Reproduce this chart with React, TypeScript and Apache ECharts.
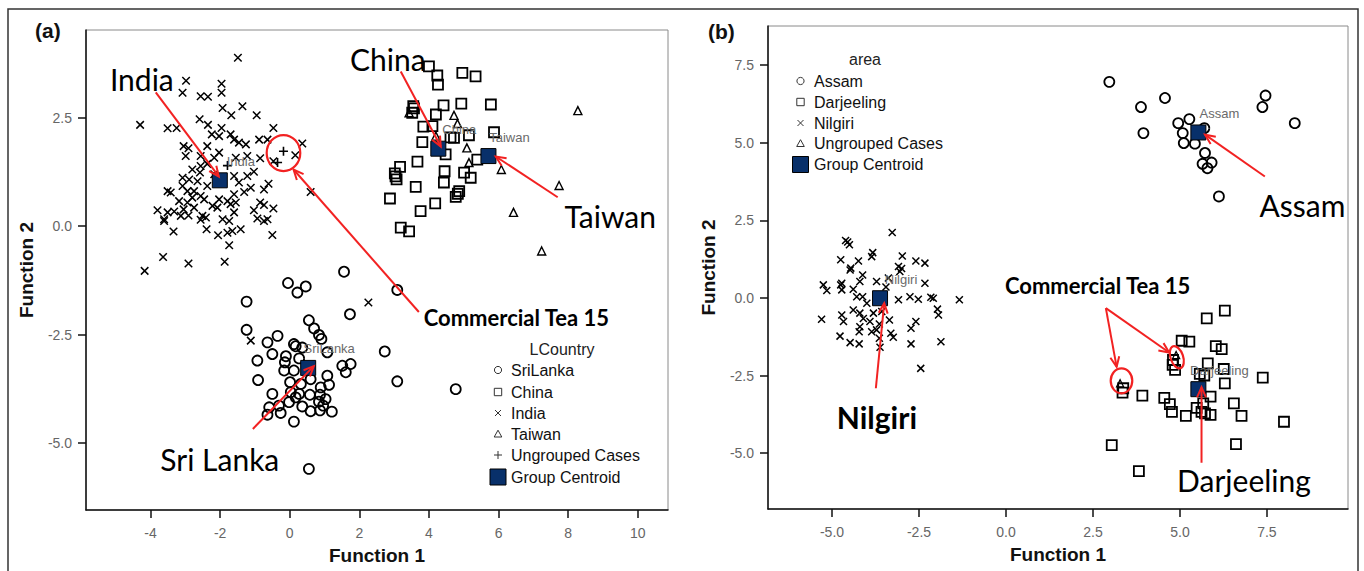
import React, { useEffect, useRef } from 'react';
import * as echarts from 'echarts';

// ---------- Panel (a): LCountry ----------
const INDIA_A = [
  [-1.49,3.89],[-2.98,3.36],[-3.08,3.08],[-2.56,3.00],[-2.35,2.99],[-1.96,3.29],[-1.96,3.08],[-1.93,2.73],[-1.36,2.77],[-1.68,2.56],
  [-0.95,2.56],[-4.30,2.34],[-3.51,2.26],[-3.25,2.27],[-2.59,2.47],[-2.35,2.34],[-1.96,2.27],[-2.24,2.12],[-2.03,2.08],[-1.70,2.12],
  [-1.60,2.00],[-1.46,1.93],[-1.26,1.89],[-0.88,2.00],[-0.64,2.00],[-0.47,2.27],[0.36,1.91],[0.16,1.64],[-3.05,1.85],[-2.91,1.80],
  [-2.56,1.62],[-2.37,1.85],[-2.99,1.62],[-2.03,1.70],[-1.55,1.58],[-1.22,1.62],[-0.85,1.57],[-0.47,1.50],[-2.56,1.39],[-2.37,1.44],
  [-2.58,1.24],[-1.03,1.26],[-1.22,1.16],[-3.08,1.12],[-2.89,1.08],[-2.65,1.04],[-2.37,0.93],[-3.08,0.93],[-2.94,0.81],[-2.75,0.81],
  [-3.51,0.81],[-3.42,0.78],[-2.56,0.70],[-2.80,0.66],[-3.18,0.58],[-2.94,0.55],[-2.46,0.62],[-2.03,0.62],[-1.79,0.58],[-1.60,0.74],
  [-1.31,0.79],[-1.12,0.89],[-0.74,0.85],[-0.61,0.98],[0.60,0.79],[-1.55,0.55],[-1.70,0.51],[-0.85,0.55],[-0.74,0.49],[-0.47,0.41],
  [-1.03,0.37],[-3.80,0.37],[-3.32,0.34],[-3.05,0.39],[-3.51,0.32],[-2.91,0.25],[-2.51,0.24],[-2.41,0.20],[-2.56,0.15],[-3.61,0.16],
  [-3.61,0.12],[-1.93,0.16],[-1.74,0.12],[-0.93,0.18],[-0.74,0.12],[-0.64,0.16],[-3.34,-0.12],[-2.39,-0.07],[-2.06,-0.21],[-1.79,-0.15],
  [-1.65,-0.11],[-1.41,-0.07],[-1.74,-0.44],[-0.50,-0.20],[-3.64,-0.71],[-2.91,-0.86],[-1.87,-0.82],[-4.17,-1.03],[-2.17,1.58],[-2.80,1.31],
  [-2.17,1.20],[-1.60,1.16],[-1.46,1.01],[-2.22,0.47],[-2.08,0.43],[-2.75,0.43],[-3.13,0.24],[-1.60,0.32],[-1.12,-2.64],[2.26,-1.76],
];
const SRILANKA_A = [
  [1.56,-1.05],[-0.05,-1.31],[0.46,-1.39],[0.22,-1.53],[-1.24,-1.74],[1.73,-2.03],[0.55,-2.17],[0.70,-2.36],[0.84,-2.51],[0.91,-2.60],
  [-1.24,-2.39],[-0.35,-2.53],[-0.64,-2.68],[0.12,-2.72],[0.17,-2.77],[0.36,-2.80],[1.08,-2.91],[-0.50,-2.95],[-0.11,-3.00],[0.27,-3.05],
  [-0.93,-3.10],[-0.14,-3.14],[-0.16,-3.33],[0.12,-3.33],[1.51,-3.22],[1.75,-3.18],[1.61,-3.37],[1.08,-3.45],[-0.91,-3.55],[0.01,-3.60],
  [0.32,-3.64],[0.60,-3.53],[1.13,-3.66],[0.89,-3.72],[0.03,-3.83],[0.27,-3.87],[0.58,-3.89],[0.87,-3.89],[-0.50,-3.87],[0.17,-3.95],
  [1.03,-3.99],[-0.02,-4.06],[0.84,-4.05],[0.96,-4.14],[-0.59,-4.18],[-0.31,-4.14],[-0.64,-4.35],[-0.26,-4.31],[0.36,-4.16],[0.60,-4.27],
  [0.87,-4.25],[1.21,-4.28],[0.12,-4.51],[0.55,-5.60],[3.09,-1.47],[2.73,-2.89],[3.09,-3.58],[4.77,-3.76],
];
const CHINA_A = [
  [4.00,3.69],[4.24,3.48],[4.26,3.27],[4.96,3.54],[5.34,3.46],[3.55,2.77],[3.52,2.62],[4.42,2.79],[4.93,2.83],[5.78,2.81],
  [4.20,2.58],[3.84,2.30],[4.10,2.31],[3.81,1.94],[4.72,2.04],[5.15,2.10],[5.87,2.17],[4.48,1.66],[5.39,1.54],[3.17,1.37],
  [3.02,1.22],[3.07,1.08],[3.67,1.49],[4.45,1.27],[5.01,1.24],[5.20,1.12],[3.62,0.91],[4.43,1.01],[4.87,0.81],[4.77,0.68],
  [2.88,0.64],[4.18,0.53],[3.76,0.35],[3.19,-0.03],[3.43,-0.12],[3.57,2.72],[4.83,0.75],[3.04,1.15],[4.62,2.05],
];
const TAIWAN_A = [
  [8.28,2.67],[4.72,2.56],[4.82,2.37],[3.43,2.62],[5.09,1.81],[5.15,1.47],[6.08,1.31],[7.74,0.94],[6.43,0.32],[7.24,-0.57],[4.20,2.08],
];
const UNGROUPED_A = [[-1.79,1.40],[-0.18,1.73],[-0.35,1.47]];
const CENTROID_NAMES_A = ['India', 'China', 'Taiwan', 'SriLanka'];
const CENTROIDS_A = [[-2.01,1.06],[4.27,1.79],[5.71,1.62],[0.53,-3.27]];

// ---------- Panel (b): area ----------
const ASSAM_B = [
  [2.97,6.96],[3.88,6.15],[4.57,6.44],[3.95,5.31],[7.46,6.52],[7.37,6.15],[8.30,5.63],[5.27,5.76],[4.95,5.63],[5.08,5.31],
  [5.11,4.99],[5.43,4.97],[5.70,5.47],[5.72,4.67],[5.65,4.32],[5.91,4.36],[5.79,4.18],[6.12,3.27],
];
const NILGIRI_B = [
  [-3.27,2.11],[-4.61,1.85],[-4.50,1.71],[-4.55,1.80],[-4.75,1.23],[-4.24,1.19],[-4.46,0.96],[-3.83,1.46],[-3.86,1.33],[-2.98,1.35],
  [-3.09,1.01],[-3.05,0.85],[-2.59,1.19],[-2.33,1.12],[-4.12,0.74],[-5.25,0.42],[-4.72,0.47],[-4.20,0.53],[-3.72,0.53],[-3.38,0.64],
  [-2.33,0.47],[-4.48,0.90],[-5.15,0.24],[-4.75,0.42],[-4.72,0.26],[-4.39,0.28],[-4.12,0.04],[-4.29,0.04],[-4.00,-0.17],[-4.39,-0.39],
  [-4.20,-0.49],[-3.81,-0.49],[-3.57,-0.44],[-3.35,-0.71],[-3.09,-0.06],[-2.76,0.04],[-2.52,-0.04],[-2.16,0.02],[-2.09,-0.01],[-1.34,-0.06],
  [-1.97,-0.36],[-1.94,-0.55],[-5.30,-0.69],[-4.72,-0.55],[-4.67,-0.76],[-4.10,-0.66],[-3.91,-0.76],[-3.64,-0.84],[-4.20,-0.93],[-4.22,-1.09],
  [-3.86,-1.09],[-3.72,-1.03],[-4.77,-1.23],[-4.48,-1.44],[-4.22,-1.48],[-3.62,-1.59],[-3.64,-1.30],[-3.31,-1.14],[-3.24,-1.27],[-2.73,-0.98],
  [-2.59,-0.76],[-2.73,-1.48],[-1.87,-1.41],[-2.45,-2.27],[-3.00,0.95],[-3.45,0.35],
];
const DARJEELING_B = [
  [6.29,-0.41],[5.77,-0.66],[5.05,-1.38],[5.27,-1.41],[6.03,-1.55],[6.20,-1.65],[5.80,-2.11],[6.26,-2.29],[6.29,-2.75],[7.38,-2.57],
  [4.79,-2.16],[4.86,-2.32],[5.57,-2.45],[5.70,-2.50],[3.35,-3.05],[3.92,-3.15],[4.55,-3.22],[4.71,-3.42],[4.77,-3.67],[5.17,-3.80],
  [5.48,-3.54],[5.62,-3.67],[5.67,-3.40],[5.88,-3.18],[5.88,-3.77],[5.72,-3.72],[6.55,-3.40],[6.77,-3.80],[7.99,-3.99],[3.04,-4.74],
  [6.61,-4.71],[3.82,-5.58],[3.37,-2.91],[4.80,-2.00],
];
const UNGROUPED_B = [[3.28,-2.75],[4.89,-1.84]];
const CENTROID_NAMES_B = ['Assam', 'Nilgiri', 'Darjeeling'];
const CENTROIDS_B = [[5.53,5.33],[-3.62,-0.01],[5.53,-2.94]];

// ---------- Axis ticks ----------
const X_TICKS_A = [-4, -2, 0, 2, 4, 6, 8, 10];
const Y_TICKS_A = [-5, -2.5, 0, 2.5];
const X_TICKS_B = [-5, -2.5, 0, 2.5, 5, 7.5];
const Y_TICKS_B = [-5, -2.5, 0, 2.5, 5, 7.5];

// ---------- Annotations (data coordinates) ----------
const ARROWS_A = [[-3.85,3.09,-2.04,1.15],[3.19,3.57,4.34,1.84],[7.70,0.67,5.92,1.61],[3.71,-1.98,0.11,1.31],[-1.06,-4.68,0.69,-3.23]];
const NOTES_A = [[-4.25,3.41],[2.82,3.85],[9.21,0.23],[-2.01,-5.37],[3.85,-2.10]];
const NOTE_TEXTS_A = ['India', 'China', 'Taiwan', 'Sri Lanka', 'Commercial Tea 15'];
const RINGS_A = [[-0.18,1.69]];
const ARROWS_B = [[7.44,3.91,5.72,5.26],[2.87,-0.33,3.18,-2.22],[2.87,-0.33,4.69,-1.76],[5.62,-5.31,5.62,-2.88],[-3.74,-2.91,-3.50,-0.17]];
const NOTES_B = [[8.52,3.0],[-0.03,0.39],[6.84,-5.87],[-3.71,-3.84]];
const NOTE_TEXTS_B = ['Assam', 'Commercial Tea 15', 'Darjeeling', 'Nilgiri'];
const RINGS_B = [[3.32,-2.67],[4.91,-1.91]];

const LEGEND_A = ['SriLanka', 'China', 'India', 'Taiwan', 'Ungrouped Cases', 'Group Centroid'];
const LEGEND_B = ['Assam', 'Darjeeling', 'Nilgiri', 'Ungrouped Cases', 'Group Centroid'];

const RED = '#f22222';
const NAVY = '#08306a';
const SANS = 'Liberation Sans, Arial, sans-serif';
const X_SYM = 'path://M0,0L10,10M10,0L0,10';
const PLUS_SYM = 'path://M5,0L5,10M0,5L10,5';

const hollow = (w: number) => ({ color: 'rgba(0,0,0,0)', borderColor: '#000', borderWidth: w, opacity: 1 });
const fmt1 = (v: number) => v.toFixed(1);

function xAxisCfg(gi: number, min: number, max: number, ticks: number[], f: any) {
  return {
    type: 'value', gridIndex: gi, min, max,
    name: 'Function 1', nameLocation: 'middle', nameGap: 36,
    nameTextStyle: { fontFamily: SANS, fontWeight: 'bold', fontSize: 19, color: '#111' },
    axisLine: { show: true, onZero: false, lineStyle: { color: '#111', width: 1.5 } },
    axisTick: { show: true, inside: false, length: 8, customValues: ticks, lineStyle: { color: '#111', width: 1.5 } },
    axisLabel: { customValues: ticks, formatter: f, margin: 16, fontFamily: SANS, fontSize: 14, color: '#666' },
    splitLine: { show: false },
  };
}
function yAxisCfg(gi: number, min: number, max: number, ticks: number[]) {
  return {
    type: 'value', gridIndex: gi, min, max,
    name: 'Function 2', nameLocation: 'middle', nameGap: 50,
    nameTextStyle: { fontFamily: SANS, fontWeight: 'bold', fontSize: 19, color: '#111' },
    axisLine: { show: true, onZero: false, lineStyle: { color: '#111', width: 1.5 } },
    axisTick: { show: true, inside: false, length: 8, customValues: ticks, lineStyle: { color: '#111', width: 1.5 } },
    axisLabel: { customValues: ticks, formatter: fmt1, margin: 14, fontFamily: SANS, fontSize: 14, color: '#666' },
    splitLine: { show: false },
  };
}

function scatter(gi: number, name: string, data: number[][], symbol: string, size: number, w: number) {
  return { type: 'scatter', name, xAxisIndex: gi, yAxisIndex: gi, data, symbol, symbolSize: size, itemStyle: hollow(w), z: 3, silent: true };
}
function centroids(gi: number, names: string[], pts: number[][]) {
  return {
    type: 'scatter', name: 'Group Centroid', xAxisIndex: gi, yAxisIndex: gi, symbol: 'rect', symbolSize: 15, z: 6, silent: true,
    itemStyle: { color: NAVY, borderColor: '#000', borderWidth: 1, opacity: 1 },
    data: pts.map((p, i) => ({ name: names[i], value: p })),
    label: { show: true, formatter: '{b}', position: [29, -11], align: 'center', verticalAlign: 'middle', color: '#6a6a6a', fontSize: 13, fontFamily: SANS },
  };
}
function arrows(gi: number, data: number[][]) {
  return {
    type: 'custom', xAxisIndex: gi, yAxisIndex: gi, data, silent: true, z: 10,
    renderItem: (_p: any, api: any) => {
      const p1 = api.coord([api.value(0), api.value(1)]);
      const p2 = api.coord([api.value(2), api.value(3)]);
      const a = Math.atan2(p2[1] - p1[1], p2[0] - p1[0]);
      const L = 11, s = 0.42;
      const h1 = [p2[0] - L * Math.cos(a - s), p2[1] - L * Math.sin(a - s)];
      const h2 = [p2[0] - L * Math.cos(a + s), p2[1] - L * Math.sin(a + s)];
      const st = { stroke: RED, lineWidth: 2, fill: 'none' };
      return {
        type: 'group', children: [
          { type: 'line', shape: { x1: p1[0], y1: p1[1], x2: p2[0], y2: p2[1] }, style: st },
          { type: 'polyline', shape: { points: [h1, p2, h2] }, style: st },
        ],
      };
    },
  };
}
function notes(gi: number, pts: number[][], texts: string[]) {
  return {
    type: 'custom', xAxisIndex: gi, yAxisIndex: gi, data: pts, silent: true, z: 11,
    renderItem: (params: any, api: any) => {
      const t = texts[params.dataIndex];
      const p = api.coord([api.value(0), api.value(1)]);
      const isCT = t === 'Commercial Tea 15';
      const bold = isCT || t === 'Nilgiri';
      return {
        type: 'text', x: p[0], y: p[1],
        style: {
          text: t, fontSize: isCT ? 22 : 30, fontWeight: bold ? 'bold' : 'normal', fontFamily: 'Lato, Open Sans, sans-serif',
          fill: '#000', align: isCT ? 'left' : 'center', verticalAlign: 'middle',
        },
      };
    },
  };
}
function rings(gi: number, pts: number[][], radii: number[][]) {
  return {
    type: 'custom', xAxisIndex: gi, yAxisIndex: gi, data: pts, silent: true, z: 10,
    renderItem: (params: any, api: any) => {
      const r = radii[params.dataIndex];
      const p = api.coord([api.value(0), api.value(1)]);
      return {
        type: 'ellipse', x: p[0], y: p[1], rotation: r[2],
        shape: { cx: 0, cy: 0, rx: r[0], ry: r[1] },
        style: { stroke: RED, lineWidth: 2.2, fill: 'none' },
      };
    },
  };
}

function legendIcon(kind: string, cx: number, cy: number): any {
  const st = { stroke: '#333', lineWidth: 1, fill: 'none' };
  switch (kind) {
    case 'circle': return { type: 'circle', shape: { cx, cy, r: 3.6 }, style: st };
    case 'square': return { type: 'rect', shape: { x: cx - 3.7, y: cy - 3.7, width: 7.4, height: 7.4 }, style: st };
    case 'x': return { type: 'group', children: [
      { type: 'line', shape: { x1: cx - 3, y1: cy - 3, x2: cx + 3, y2: cy + 3 }, style: st },
      { type: 'line', shape: { x1: cx + 3, y1: cy - 3, x2: cx - 3, y2: cy + 3 }, style: st }] };
    case 'tri': return { type: 'polygon', shape: { points: [[cx, cy - 3.8], [cx + 3.8, cy + 3], [cx - 3.8, cy + 3]] }, style: st };
    case 'plus': return { type: 'group', children: [
      { type: 'line', shape: { x1: cx - 4, y1: cy, x2: cx + 4, y2: cy }, style: st },
      { type: 'line', shape: { x1: cx, y1: cy - 4, x2: cx, y2: cy + 4 }, style: st }] };
    default: return { type: 'rect', shape: { x: cx - 8, y: cy - 8, width: 16, height: 16 }, style: { fill: NAVY, stroke: '#000', lineWidth: 1 } };
  }
}
function legendBlock(title: string, titleX: number, titleY: number, names: string[], kinds: string[], symX: number, textX: number, rows: number[]) {
  const els: any[] = [{ type: 'text', x: titleX, y: titleY, style: { text: title, fontSize: 16, fontFamily: SANS, fill: '#222', align: 'center', verticalAlign: 'middle' } }];
  names.forEach((n, i) => {
    els.push(legendIcon(kinds[i], symX, rows[i]));
    els.push({ type: 'text', x: textX, y: rows[i], style: { text: n, fontSize: 16, fontFamily: SANS, fill: '#111', align: 'left', verticalAlign: 'middle' } });
  });
  return els;
}

export default function App() {
  const ref = useRef<HTMLDivElement>(null);
  useEffect(() => {
    document.body.style.margin = '0';
    const chart = echarts.init(ref.current as HTMLDivElement, null, { renderer: 'svg' });
    const option: any = {
      animation: false,
      backgroundColor: '#fff',
      grid: [
        { left: 86, top: 30, width: 582, height: 480, show: true, borderColor: '#8a8a8a', borderWidth: 1, backgroundColor: '#fff', outerBoundsMode: 'none' },
        { left: 768, top: 26, width: 580, height: 483, show: true, borderColor: '#8a8a8a', borderWidth: 1, backgroundColor: '#fff', outerBoundsMode: 'none' },
      ],
      xAxis: [xAxisCfg(0, -5.855, 10.87, X_TICKS_A, (v: number) => String(v)), xAxisCfg(1, -6.84, 9.83, X_TICKS_B, fmt1)],
      yAxis: [yAxisCfg(0, -6.55, 4.53, Y_TICKS_A), yAxisCfg(1, -6.8, 8.76, Y_TICKS_B)],
      series: [
        scatter(0, 'SriLanka', SRILANKA_A, 'circle', 10, 1.8),
        scatter(0, 'China', CHINA_A, 'rect', 10, 1.8),
        scatter(0, 'India', INDIA_A, X_SYM, 7.5, 1.5),
        scatter(0, 'Taiwan', TAIWAN_A, 'triangle', 8, 1.4),
        scatter(0, 'Ungrouped Cases', UNGROUPED_A, PLUS_SYM, 9, 1.6),
        centroids(0, CENTROID_NAMES_A, CENTROIDS_A),
        scatter(1, 'Assam', ASSAM_B, 'circle', 10, 1.8),
        scatter(1, 'Darjeeling', DARJEELING_B, 'rect', 10, 1.8),
        scatter(1, 'Nilgiri', NILGIRI_B, X_SYM, 7, 1.5),
        scatter(1, 'Ungrouped Cases', UNGROUPED_B, 'triangle', 7, 1.3),
        centroids(1, CENTROID_NAMES_B, CENTROIDS_B),
        arrows(0, ARROWS_A), notes(0, NOTES_A, NOTE_TEXTS_A), rings(0, RINGS_A, [[16.8, 18, 0]]),
        arrows(1, ARROWS_B), notes(1, NOTES_B, NOTE_TEXTS_B), rings(1, RINGS_B, [[10.8, 12.5, 0], [6.3, 11.5, 0.33]]),
      ],
      graphic: [
        { type: 'rect', shape: { x: 8, y: 9, width: 1350, height: 620 }, style: { fill: 'none', stroke: '#333', lineWidth: 1.5 }, silent: true },
        { type: 'text', x: 35, y: 30, style: { text: '(a)', fontSize: 21, fontWeight: 'bold', fontFamily: SANS, fill: '#111', verticalAlign: 'middle' } },
        { type: 'text', x: 708, y: 31, style: { text: '(b)', fontSize: 21, fontWeight: 'bold', fontFamily: SANS, fill: '#111', verticalAlign: 'middle' } },
        ...legendBlock('LCountry', 562, 349, LEGEND_A, ['circle', 'square', 'x', 'tri', 'plus', 'centroid'], 498, 511, [370, 392, 413, 434, 455, 477]),
        ...legendBlock('area', 865, 59, LEGEND_B, ['circle', 'square', 'x', 'tri', 'centroid'], 800.5, 814, [81, 102, 123, 143.5, 164.5]),
      ],
    };
    chart.setOption(option);
    return () => chart.dispose();
  }, []);
  return <div ref={ref} style={{ width: 1364, height: 571, background: '#fff' }} />;
}
